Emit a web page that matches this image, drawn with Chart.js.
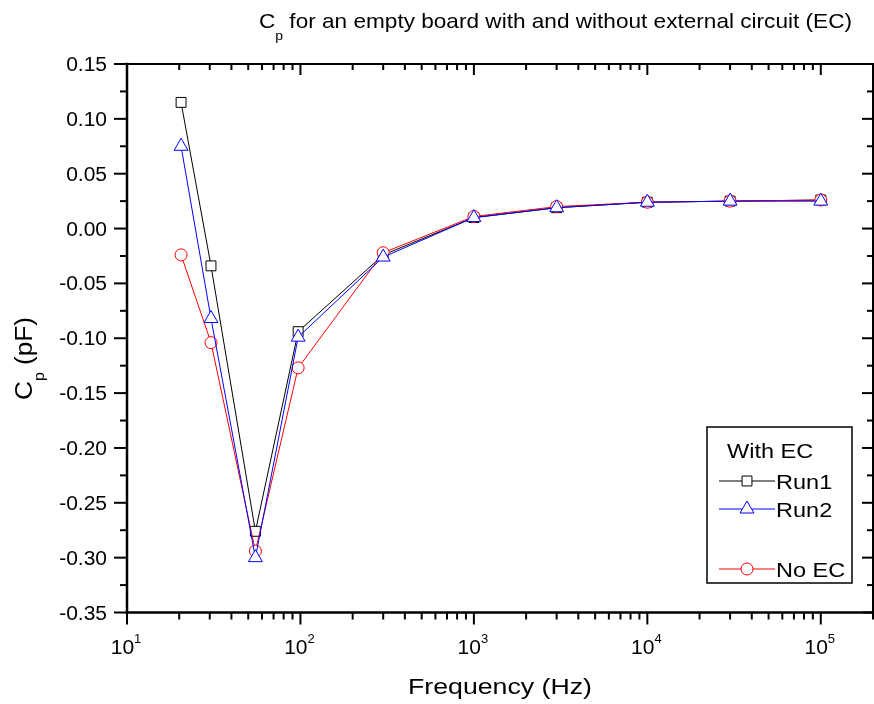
<!DOCTYPE html>
<html lang="en">
<head>
<meta charset="UTF-8">
<title>Cp empty board</title>
<script src="https://cdn.jsdelivr.net/npm/chart.js"></script>
<style>
  body { margin: 0; background: #fff; }
  #wrap { width: 874px; height: 704px; }
</style>
</head>
<body>
<div id="wrap"><canvas id="cpChart" width="874" height="704"></canvas></div>
<script>
// values
const freqs = [20.5, 30.5, 55, 97, 300, 1000, 3000, 10000, 30000, 100000];
const run1 = [0.115, -0.034, -0.276, -0.094, -0.024, 0.010, 0.019, 0.024, 0.025, 0.026];
const run2 = [0.075, -0.082, -0.300, -0.099, -0.026, 0.010, 0.019, 0.024, 0.025, 0.025];
const noEC = [-0.024, -0.104, -0.294, -0.127, -0.022, 0.011, 0.020, 0.024, 0.025, 0.026];
const yTicks = [0.15, 0.10, 0.05, 0.00, -0.05, -0.10, -0.15, -0.20, -0.25, -0.30, -0.35];
const xDecades = [1, 2, 3, 4, 5];

const FONT = '"Liberation Sans", Arial, sans-serif';

function pts(ys) {
    return freqs.map((f, i) => ({ x: f, y: ys[i] }));
}

// draw a list of text runs (text, size, dy) squeezed/stretched to a given length
function drawRuns(ctx, runs, x, y, length, rotate) {
    ctx.save();
    let natural = 0;
    runs.forEach(r => {
        ctx.font = r.s + 'px ' + FONT;
        natural += ctx.measureText(r.t).width;
    });
    const sx = length / natural;
    ctx.translate(x, y);
    if (rotate) ctx.rotate(-Math.PI / 2);
    ctx.scale(sx, 1);
    ctx.fillStyle = '#000';
    ctx.textAlign = 'left';
    ctx.textBaseline = 'alphabetic';
    let cx = 0;
    runs.forEach(r => {
        ctx.font = r.s + 'px ' + FONT;
        ctx.fillText(r.t, cx, r.dy || 0);
        cx += ctx.measureText(r.t).width;
    });
    ctx.restore();
}

function text(ctx, str, x, y, size, align, sx) {
    ctx.save();
    ctx.font = size + 'px ' + FONT;
    const w = ctx.measureText(str).width * sx;
    const x0 = align === 'right' ? x - w : align === 'center' ? x - w / 2 : x;
    ctx.translate(x0, y);
    ctx.scale(sx, 1);
    ctx.fillStyle = '#000';
    ctx.textAlign = 'left';
    ctx.textBaseline = 'alphabetic';
    ctx.fillText(str, 0, 0);
    ctx.restore();
}

const framePlugin = {
    id: 'originFrame',
    afterDraw(chart) {
        const ctx = chart.ctx;
        const a = chart.chartArea;
        const xs = chart.scales.x;
        const ys = chart.scales.y;

        function seg(x1, y1, x2, y2) {
            ctx.beginPath();
            ctx.moveTo(x1, y1);
            ctx.lineTo(x2, y2);
            ctx.stroke();
        }

        ctx.save();
        ctx.strokeStyle = '#000';
        ctx.lineCap = 'square';
        ctx.lineWidth = 2;
        seg(a.left, a.top, a.right, a.top);
        seg(a.right, a.top, a.right, a.bottom);
        ctx.lineWidth = 2.5;
        seg(a.left, a.top, a.left, a.bottom);
        seg(a.left, a.bottom, a.right, a.bottom);
        ctx.lineCap = 'butt';
        ctx.lineWidth = 2;

        // x ticks (log): majors on decades, minors 2..9
        xDecades.forEach(d => {
            const px = xs.getPixelForValue(Math.pow(10, d));
            seg(px, a.bottom, px, a.bottom + 12);
            seg(px, a.top, px, a.top + 11);
        });
        for (let d = 1; d <= 5; d++) {
            for (let k = 2; k <= 9; k++) {
                const v = k * Math.pow(10, d);
                if (v > xs.max) break;
                const px = xs.getPixelForValue(v);
                seg(px, a.bottom, px, a.bottom + 7);
                seg(px, a.top, px, a.top + 6);
            }
        }

        // y ticks: majors from list, minors halfway
        yTicks.forEach((v, i) => {
            const py = ys.getPixelForValue(v);
            seg(a.left - 13, py, a.left, py);
            seg(a.right - 11, py, a.right, py);
            if (i < yTicks.length - 1) {
                const pm = ys.getPixelForValue((v + yTicks[i + 1]) / 2);
                seg(a.left - 7, pm, a.left, pm);
                seg(a.right - 6, pm, a.right, pm);
            }
        });
        ctx.restore();

        // tick labels
        yTicks.forEach(v => {
            const py = ys.getPixelForValue(v);
            text(ctx, v.toFixed(2), 107, py + 7, 20, 'right', 1.05);
        });
        xDecades.forEach(d => {
            const px = xs.getPixelForValue(Math.pow(10, d));
            ctx.font = '21px ' + FONT;
            const w1 = ctx.measureText('10').width;
            ctx.font = '13px ' + FONT;
            const w2 = ctx.measureText(String(d)).width;
            const start = px - (w1 + w2) / 2 - 1;
            text(ctx, '10', start, 654, 21, 'left', 1);
            text(ctx, String(d), start + w1, 643, 13, 'left', 1);
        });

        // title and axis titles
        drawRuns(ctx, [
            { t: 'C', s: 21 },
            { t: 'p', s: 13, dy: 12 },
            { t: ' for an empty board with and without external circuit (EC)', s: 21 }
        ], 259, 27.5, 593, false);
        drawRuns(ctx, [{ t: 'Frequency (Hz)', s: 22 }], 408, 694, 184, false);
        drawRuns(ctx, [
            { t: 'C', s: 23 },
            { t: 'p', s: 14, dy: 12 },
            { t: ' (pF)', s: 23 }
        ], 31.7, 400, 83, true);

        // legend box
        ctx.save();
        ctx.fillStyle = '#fff';
        ctx.strokeStyle = '#000';
        ctx.lineWidth = 1.5;
        ctx.fillRect(707, 427, 145, 156);
        ctx.strokeRect(707, 427, 145, 156);
        ctx.restore();
        text(ctx, 'With EC', 727, 458, 21, 'left', 1.12);

        const rows = [
            { ds: 0, y: 481, label: 'Run1' },
            { ds: 1, y: 509, label: 'Run2' },
            { ds: 2, y: 569, label: 'No EC' }
        ];
        rows.forEach(r => {
            const ds = chart.data.datasets[r.ds];
            ctx.save();
            ctx.strokeStyle = ds.borderColor;
            ctx.lineWidth = 1;
            ctx.beginPath();
            ctx.moveTo(719, r.y);
            ctx.lineTo(775, r.y);
            ctx.stroke();
            ctx.fillStyle = '#fff';
            ctx.strokeStyle = ds.borderColor;
            Chart.helpers.drawPoint(ctx, {
                pointStyle: ds.pointStyle,
                radius: ds.pointRadius,
                rotation: 0,
                borderWidth: 1
            }, 747, r.y);
            ctx.restore();
            text(ctx, r.label, 776, r.y + 8, 21, 'left', 1.12);
        });
    }
};

const chart = new Chart(document.getElementById('cpChart'), {
    type: 'line',
    data: {
        datasets: [
            {
                label: 'Run1', data: pts(run1), order: 2,
                borderColor: '#000000', borderWidth: 1, tension: 0,
                pointStyle: 'rect', pointRadius: 7,
                pointBackgroundColor: '#ffffff', pointBorderColor: '#000000', pointBorderWidth: 1
            },
            {
                label: 'Run2', data: pts(run2), order: 0,
                borderColor: '#0000ff', borderWidth: 1, tension: 0,
                pointStyle: 'triangle', pointRadius: 8,
                pointBackgroundColor: '#ffffff', pointBorderColor: '#0000ff', pointBorderWidth: 1
            },
            {
                label: 'No EC', data: pts(noEC), order: 1,
                borderColor: '#ff0000', borderWidth: 1, tension: 0,
                pointStyle: 'circle', pointRadius: 6,
                pointBackgroundColor: '#ffffff', pointBorderColor: '#ff0000', pointBorderWidth: 1
            }
        ]
    },
    options: {
        responsive: false,
        animation: false,
        layout: { autoPadding: false, padding: { top: 64, right: 1, left: 0, bottom: 0 } },
        plugins: {
            legend: { display: false },
            title: { display: false },
            tooltip: { enabled: false }
        },
        scales: {
            x: {
                type: 'logarithmic', min: 10, max: 200000,
                grid: { display: false }, border: { display: false },
                ticks: { display: false },
                afterFit: s => { s.height = 91.5; }
            },
            y: {
                type: 'linear', min: -0.35, max: 0.15,
                grid: { display: false }, border: { display: false },
                ticks: { display: false },
                afterFit: s => { s.width = 127; }
            }
        }
    },
    plugins: [framePlugin]
});
</script>
</body>
</html>
